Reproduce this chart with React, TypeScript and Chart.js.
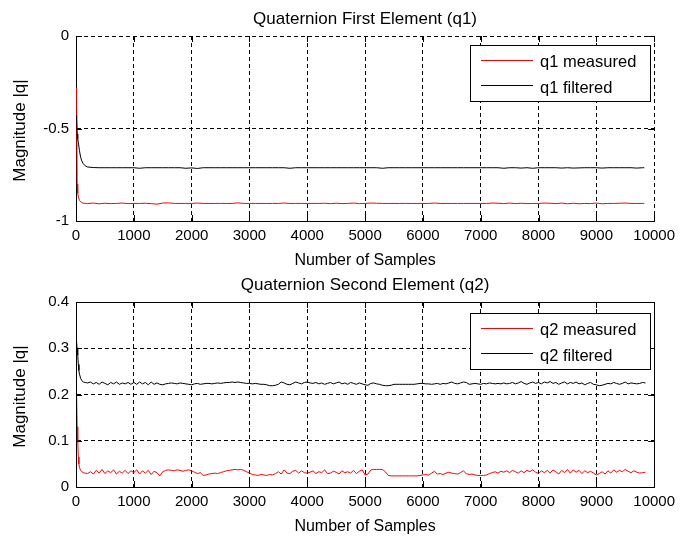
import React, { useEffect, useRef } from 'react';
import { Chart, registerables } from 'chart.js';

Chart.register(...registerables);

const FONT = '"Liberation Sans", Arial, Helvetica, sans-serif';

// Shared axis text
const xTitle = 'Number of Samples';
const yTitle = 'Magnitude |q|';
const xTicks = [0, 1000, 2000, 3000, 4000, 5000, 6000, 7000, 8000, 9000, 10000];

// ---- First quaternion element ----
const q1Title = 'Quaternion First Element (q1)';
const q1Labels = ['q1 measured', 'q1 filtered'];
const q1YTicks = [-1, -0.5, 0];
const q1Samples = [
  0, 10, 20, 30, 40, 60, 80, 100, 120, 160, 200,
  300, 400, 500, 600, 700, 800, 900, 1000, 1100, 1200,
  1300, 1400, 1500, 1600, 1700, 1800, 1900, 2000, 2100, 2200,
  2300, 2400, 2500, 2600, 2700, 2800, 2900, 3000, 3100, 3200,
  3300, 3400, 3500, 3600, 3700, 3800, 3900, 4000, 4100, 4200,
  4300, 4400, 4500, 4600, 4700, 4800, 4900, 5000, 5100, 5200,
  5300, 5400, 5500, 5600, 5700, 5800, 5900, 6000, 6100, 6200,
  6300, 6400, 6500, 6600, 6700, 6800, 6900, 7000, 7100, 7200,
  7300, 7400, 7500, 7600, 7700, 7800, 7900, 8000, 8100, 8200,
  8300, 8400, 8500, 8600, 8700, 8800, 8900, 9000, 9100, 9200,
  9300, 9400, 9500, 9600, 9700, 9800, 9830,
];
const q1Measured = [
  -0.28, -0.29, -0.8, -0.85, -0.87, -0.888, -0.896, -0.9, -0.903, -0.905, -0.906,
  -0.903, -0.907, -0.904, -0.906, -0.905, -0.903, -0.906, -0.905, -0.905, -0.904,
  -0.906, -0.909, -0.903, -0.902, -0.905, -0.905, -0.905, -0.905, -0.903, -0.905,
  -0.905, -0.905, -0.905, -0.905, -0.905, -0.902, -0.905, -0.905, -0.905, -0.905,
  -0.905, -0.905, -0.905, -0.903, -0.905, -0.905, -0.905, -0.905, -0.905, -0.905,
  -0.904, -0.906, -0.904, -0.906, -0.905, -0.903, -0.906, -0.905, -0.903, -0.904,
  -0.905, -0.905, -0.905, -0.905, -0.905, -0.905, -0.905, -0.905, -0.905, -0.903,
  -0.905, -0.905, -0.905, -0.905, -0.905, -0.905, -0.905, -0.905, -0.905, -0.903,
  -0.904, -0.906, -0.903, -0.906, -0.904, -0.906, -0.905, -0.905, -0.903, -0.904,
  -0.906, -0.903, -0.907, -0.904, -0.907, -0.905, -0.906, -0.903, -0.907, -0.905,
  -0.905, -0.904, -0.903, -0.905, -0.905, -0.905, -0.905,
];
const q1Filtered = [
  -0.43, -0.44, -0.53, -0.555, -0.575, -0.62, -0.655, -0.675, -0.688, -0.702, -0.708,
  -0.711, -0.712, -0.712, -0.712, -0.712, -0.712, -0.712, -0.712, -0.715, -0.712,
  -0.712, -0.712, -0.712, -0.712, -0.712, -0.712, -0.715, -0.713, -0.716, -0.712,
  -0.712, -0.712, -0.712, -0.712, -0.712, -0.712, -0.712, -0.712, -0.712, -0.712,
  -0.712, -0.712, -0.712, -0.712, -0.715, -0.712, -0.712, -0.712, -0.712, -0.712,
  -0.712, -0.712, -0.712, -0.712, -0.712, -0.712, -0.712, -0.712, -0.712, -0.712,
  -0.715, -0.712, -0.712, -0.712, -0.712, -0.712, -0.712, -0.712, -0.712, -0.712,
  -0.712, -0.712, -0.712, -0.712, -0.712, -0.712, -0.712, -0.712, -0.712, -0.712,
  -0.712, -0.715, -0.712, -0.712, -0.714, -0.712, -0.715, -0.712, -0.712, -0.712,
  -0.712, -0.714, -0.712, -0.714, -0.713, -0.712, -0.712, -0.712, -0.714, -0.712,
  -0.712, -0.712, -0.712, -0.712, -0.714, -0.712, -0.712,
];

// ---- Second quaternion element ----
const q2Title = 'Quaternion Second Element (q2)';
const q2Labels = ['q2 measured', 'q2 filtered'];
const q2YTicks = [0, 0.1, 0.2, 0.3, 0.4];
const q2Samples = [
  0, 10, 20, 30, 40, 50, 60, 80, 100, 130, 160, 200,
  250, 300, 350, 400, 450, 500, 550, 600, 650, 700, 750, 800, 850, 900, 950,
  1000, 1050, 1100, 1150, 1200, 1250, 1300, 1350, 1400, 1450, 1500, 1550, 1600, 1650, 1700, 1750, 1800, 1850, 1900, 1950,
  2000, 2050, 2100, 2150, 2200, 2250, 2300, 2350, 2400, 2450, 2500, 2550, 2600, 2650, 2700, 2750, 2800, 2850, 2900, 2950,
  3000, 3050, 3100, 3150, 3200, 3250, 3300, 3350, 3400, 3450, 3500, 3550, 3600, 3650, 3700, 3750, 3800, 3850, 3900, 3950,
  4000, 4050, 4100, 4150, 4200, 4250, 4300, 4350, 4400, 4450, 4500, 4550, 4600, 4650, 4700, 4750, 4800, 4850, 4900, 4950,
  5000, 5050, 5100, 5150, 5200, 5250, 5300, 5350, 5400, 5450, 5500, 5550, 5600, 5650, 5700, 5750, 5800, 5850, 5900, 5950,
  6000, 6050, 6100, 6150, 6200, 6250, 6300, 6350, 6400, 6450, 6500, 6550, 6600, 6650, 6700, 6750, 6800, 6850, 6900, 6950,
  7000, 7050, 7100, 7150, 7200, 7250, 7300, 7350, 7400, 7450, 7500, 7550, 7600, 7650, 7700, 7750, 7800, 7850, 7900, 7950,
  8000, 8050, 8100, 8150, 8200, 8250, 8300, 8350, 8400, 8450, 8500, 8550, 8600, 8650, 8700, 8750, 8800, 8850, 8900, 8950,
  9000, 9050, 9100, 9150, 9200, 9250, 9300, 9350, 9400, 9450, 9500, 9550, 9600, 9650, 9700, 9750, 9800, 9850,
];
const q2Measured = [
  0.27, 0.27, 0.13, 0.1, 0.065, 0.05, 0.042, 0.036, 0.033, 0.031, 0.03, 0.029,
  0.033, 0.028, 0.036, 0.03, 0.038, 0.029, 0.035, 0.031, 0.037, 0.028, 0.034, 0.03, 0.036, 0.029, 0.035,
  0.031, 0.037, 0.028, 0.035, 0.03, 0.036, 0.027, 0.034, 0.031, 0.024, 0.033, 0.036, 0.037, 0.036, 0.035, 0.037, 0.036, 0.034, 0.036, 0.037,
  0.035, 0.032, 0.029, 0.031, 0.025, 0.026, 0.028, 0.029, 0.03, 0.029, 0.031, 0.033, 0.035, 0.036, 0.037, 0.038, 0.037, 0.038, 0.036, 0.033,
  0.03, 0.027, 0.026, 0.025, 0.027, 0.026, 0.025, 0.027, 0.026, 0.029, 0.033, 0.028, 0.037, 0.03, 0.029, 0.034, 0.036, 0.03, 0.035, 0.031,
  0.03, 0.032, 0.035, 0.029, 0.033, 0.031, 0.037, 0.029, 0.03, 0.034, 0.032, 0.028, 0.035, 0.031, 0.033, 0.03, 0.036, 0.029, 0.034, 0.037,
  0.026, 0.028, 0.037, 0.038, 0.038, 0.038, 0.038, 0.033, 0.025, 0.024, 0.024, 0.024, 0.024, 0.024, 0.024, 0.024, 0.024, 0.024, 0.024, 0.025,
  0.026, 0.027, 0.026, 0.03, 0.034, 0.028, 0.029, 0.027, 0.03, 0.032, 0.03, 0.029, 0.028, 0.031, 0.035, 0.029, 0.027, 0.028, 0.026, 0.025,
  0.025, 0.025, 0.026, 0.029, 0.031, 0.033, 0.03, 0.034, 0.032, 0.035, 0.031, 0.036, 0.033, 0.03, 0.035, 0.031, 0.036, 0.033, 0.037, 0.032,
  0.029, 0.035, 0.031, 0.036, 0.03, 0.037, 0.033, 0.028, 0.036, 0.031, 0.038, 0.03, 0.037, 0.032, 0.036, 0.029, 0.035, 0.031, 0.034, 0.03,
  0.026, 0.029, 0.033, 0.028, 0.035, 0.03, 0.037, 0.032, 0.036, 0.033, 0.038, 0.034, 0.031, 0.035, 0.032, 0.03, 0.031, 0.032,
];
const q2Filtered = [
  0.33, 0.33, 0.298, 0.285, 0.265, 0.252, 0.244, 0.235, 0.23, 0.227, 0.226, 0.225,
  0.227, 0.223, 0.226, 0.222, 0.227, 0.224, 0.221, 0.226, 0.223, 0.227, 0.222, 0.225, 0.223, 0.226, 0.222,
  0.226, 0.222, 0.227, 0.223, 0.226, 0.221, 0.227, 0.222, 0.225, 0.222, 0.221, 0.223, 0.224, 0.225, 0.224, 0.223, 0.225, 0.224, 0.223, 0.222,
  0.221, 0.223, 0.224, 0.222, 0.223, 0.224, 0.224, 0.223, 0.224, 0.225, 0.224, 0.225, 0.226, 0.226, 0.227, 0.226, 0.227, 0.226, 0.225, 0.224,
  0.224, 0.223, 0.224, 0.223, 0.222, 0.222, 0.221, 0.219, 0.219, 0.22, 0.222, 0.227, 0.225, 0.222, 0.221, 0.224, 0.227, 0.225, 0.223, 0.226,
  0.227, 0.225, 0.224, 0.226, 0.223, 0.225, 0.222, 0.224, 0.226, 0.223, 0.225, 0.227, 0.223, 0.225, 0.222, 0.226, 0.224, 0.222, 0.225, 0.223,
  0.221, 0.22, 0.224, 0.225, 0.223, 0.222, 0.22, 0.219, 0.219, 0.22, 0.222, 0.222, 0.222, 0.222, 0.222, 0.222, 0.222, 0.222, 0.223, 0.224,
  0.224, 0.223, 0.223, 0.222, 0.223, 0.224, 0.222, 0.224, 0.223, 0.225, 0.227, 0.224, 0.223, 0.225, 0.227, 0.226, 0.222, 0.223, 0.224, 0.223,
  0.222, 0.224, 0.223, 0.225, 0.224, 0.223, 0.224, 0.223, 0.225, 0.223, 0.224, 0.226, 0.223, 0.225, 0.228, 0.224, 0.222, 0.225, 0.227, 0.224,
  0.226, 0.223, 0.227, 0.225, 0.228, 0.224, 0.226, 0.222, 0.225, 0.227, 0.223, 0.226, 0.224, 0.227, 0.223, 0.225, 0.221, 0.224, 0.226, 0.222,
  0.221, 0.219, 0.22, 0.222, 0.224, 0.223, 0.226, 0.224, 0.222, 0.224, 0.227, 0.223, 0.225, 0.224, 0.223, 0.224, 0.226, 0.225,
];

type Panel = {
  title: string;
  labels: string[];
  samples: number[];
  measured: number[];
  filtered: number[];
  yTicks: number[];
  height: number;
  plotTop: number;
  plotBottom: number;
  solidBox: boolean;
  legendTop: number;
  titleY: number;
  xTitleY: number;
};

const panels: Panel[] = [
  {
    title: q1Title, labels: q1Labels, samples: q1Samples, measured: q1Measured, filtered: q1Filtered,
    yTicks: q1YTicks, height: 270, plotTop: 36, plotBottom: 221, solidBox: false,
    legendTop: 45, titleY: 23.5, xTitleY: 264.5,
  },
  {
    title: q2Title, labels: q2Labels, samples: q2Samples, measured: q2Measured, filtered: q2Filtered,
    yTicks: q2YTicks, height: 268, plotTop: 32, plotBottom: 217, solidBox: true,
    legendTop: 43, titleY: 20, xTitleY: 261,
  },
];

const PLOT_LEFT = 76;
const PLOT_RIGHT = 657;
const WIDTH = 681;

// Axes box, inward tick marks, titles and an in-axes legend in the MATLAB figure style
const figureDecor = {
  id: 'figureDecor',
  afterDraw(chart: any, _args: any, opts: any) {
    const { ctx, chartArea: a, scales } = chart;
    ctx.save();
    ctx.strokeStyle = '#000';
    ctx.lineWidth = 1;

    const tickLen = 6;
    ctx.beginPath();
    for (const t of scales.x.ticks) {
      const px = Math.round(scales.x.getPixelForValue(t.value)) + 0.5;
      ctx.moveTo(px, a.top);
      ctx.lineTo(px, a.top + tickLen);
      ctx.moveTo(px, a.bottom);
      ctx.lineTo(px, a.bottom - tickLen);
    }
    for (const t of scales.y.ticks) {
      const py = Math.round(scales.y.getPixelForValue(t.value)) + 0.5;
      ctx.moveTo(a.left, py);
      ctx.lineTo(a.left + tickLen, py);
      ctx.moveTo(a.right, py);
      ctx.lineTo(a.right - tickLen, py);
    }
    ctx.stroke();

    if (opts.solidBox) {
      ctx.strokeRect(Math.round(a.left) + 0.5, Math.round(a.top) + 0.5, Math.round(a.right - a.left), Math.round(a.bottom - a.top));
    }

    // legend
    const lx = 470;
    const ly = opts.legendTop;
    const lw = 180;
    const lh = 56;
    ctx.fillStyle = '#fff';
    ctx.fillRect(lx, ly, lw, lh);
    ctx.strokeStyle = '#000';
    ctx.strokeRect(lx + 0.5, ly + 0.5, lw, lh);
    ctx.font = `16.5px ${FONT}`;
    ctx.textAlign = 'left';
    ctx.textBaseline = 'alphabetic';
    const rows = [15.5, 40.5];
    const baselines = [22, 47.5];
    chart.data.datasets.forEach((ds: any, i: number) => {
      ctx.strokeStyle = ds.borderColor;
      ctx.beginPath();
      ctx.moveTo(lx + 11, ly + rows[i]);
      ctx.lineTo(lx + 63, ly + rows[i]);
      ctx.stroke();
      ctx.fillStyle = '#000';
      ctx.fillText(ds.label, lx + 70, ly + baselines[i]);
    });

    // titles
    const cx = (a.left + a.right) / 2;
    ctx.fillStyle = '#000';
    ctx.textAlign = 'center';
    ctx.font = `17px ${FONT}`;
    ctx.fillText(opts.title, cx, opts.titleY);
    ctx.font = `16px ${FONT}`;
    ctx.fillText(opts.xTitle, cx, opts.xTitleY);
    ctx.translate(25, (a.top + a.bottom) / 2 + 2);
    ctx.rotate(-Math.PI / 2);
    ctx.font = `17px ${FONT}`;
    ctx.fillText(opts.yTitle, 0, 0);
    ctx.restore();
  },
};

function buildConfig(p: Panel): any {
  const tickFont = { family: FONT, size: 15 };
  const grid = { color: '#000', lineWidth: 1, drawTicks: false };
  const border = { display: true, color: '#000', width: 1, dash: [4, 3] };
  return {
    type: 'line',
    data: {
      datasets: [
        {
          label: p.labels[0],
          data: p.samples.map((x, i) => ({ x, y: p.measured[i] })),
          borderColor: '#ff0000',
          borderWidth: 1,
          pointRadius: 0,
          tension: 0,
          order: 1,
        },
        {
          label: p.labels[1],
          data: p.samples.map((x, i) => ({ x, y: p.filtered[i] })),
          borderColor: '#000000',
          borderWidth: 1,
          pointRadius: 0,
          tension: 0,
          order: 0,
        },
      ],
    },
    options: {
      responsive: false,
      animation: false,
      events: [],
      layout: { padding: { left: 0, right: WIDTH - PLOT_RIGHT, top: p.plotTop, bottom: 0 } },
      plugins: {
        legend: { display: false },
        title: { display: false },
        tooltip: { enabled: false },
        figureDecor: {
          title: p.title,
          xTitle,
          yTitle,
          solidBox: p.solidBox,
          legendTop: p.legendTop,
          titleY: p.titleY,
          xTitleY: p.xTitleY,
        },
      },
      scales: {
        x: {
          type: 'linear',
          min: xTicks[0],
          max: xTicks[xTicks.length - 1],
          afterBuildTicks: (s: any) => { s.ticks = xTicks.map((v) => ({ value: v })); },
          afterFit: (s: any) => { s.height = p.height - p.plotBottom; },
          grid,
          border,
          ticks: { font: tickFont, color: '#000', padding: 6, maxRotation: 0, autoSkip: false, callback: (v: number) => String(v) },
        },
        y: {
          type: 'linear',
          min: p.yTicks[0],
          max: p.yTicks[p.yTicks.length - 1],
          afterBuildTicks: (s: any) => { s.ticks = p.yTicks.map((v) => ({ value: v })); },
          afterFit: (s: any) => { s.width = PLOT_LEFT; },
          grid,
          border,
          ticks: { font: tickFont, color: '#000', padding: 7, autoSkip: false, callback: (v: number) => String(v) },
        },
      },
    },
    plugins: [figureDecor],
  };
}

function PanelChart({ panel, top }: { panel: Panel; top: number }) {
  const ref = useRef<HTMLCanvasElement | null>(null);
  useEffect(() => {
    if (!ref.current) return;
    const chart = new Chart(ref.current, buildConfig(panel));
    return () => chart.destroy();
  }, [panel]);
  return (
    <canvas
      ref={ref}
      width={WIDTH}
      height={panel.height}
      style={{ position: 'absolute', left: 0, top, width: WIDTH, height: panel.height, display: 'block' }}
    />
  );
}

export default function App() {
  return (
    <div style={{ position: 'absolute', left: 0, top: 0, width: WIDTH, height: 538, background: '#fff', overflow: 'hidden' }}>
      <PanelChart panel={panels[0]} top={0} />
      <PanelChart panel={panels[1]} top={270} />
    </div>
  );
}
